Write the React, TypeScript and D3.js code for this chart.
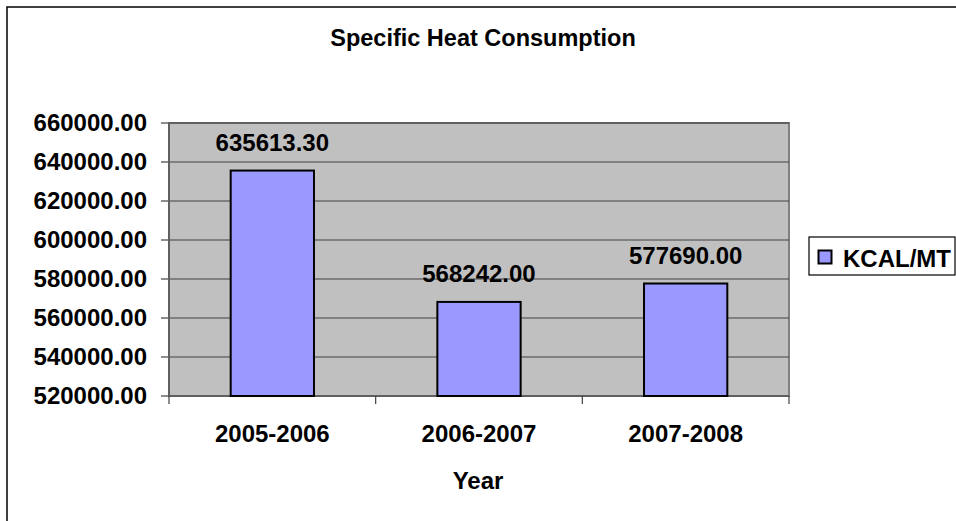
import React from "react";
import * as d3 from "d3";

const categories = ["2005-2006", "2006-2007", "2007-2008"];
const values = [635613.3, 568242.0, 577690.0];
const yTicks = [520000, 540000, 560000, 580000, 600000, 620000, 640000, 660000];
const seriesName = "KCAL/MT";
const title = "Specific Heat Consumption";
const xTitle = "Year";

export default function App() {
  const W = 956, H = 521;
  const x0 = 169, x1 = 789, y0 = 123, y1 = 396;
  const x = d3.scaleBand<string>().domain(categories).range([x0, x1]).paddingInner(0.597).paddingOuter(0.2985);
  const y = d3.scaleLinear().domain([520000, 660000]).range([y1, y0]);
  const step = (x1 - x0) / categories.length;
  const font = "'Liberation Sans', Arial, sans-serif";
  return (
    <svg width={W} height={H} style={{ position: "absolute", left: 0, top: 0 }} fontFamily={font}>
      <rect x={0} y={0} width={W} height={H} fill="#fff" />
      <rect x={7} y={7} width={W + 10} height={H + 10} fill="none" stroke="#000" strokeWidth={1.5} />
      <text x={483} y={46} textAnchor="middle" fontWeight="bold" fontSize={23.5}>{title}</text>
      <rect x={x0} y={y0} width={x1 - x0} height={y1 - y0} fill="#C0C0C0" stroke="#808080" strokeWidth={2} />
      {yTicks.map((t) => (
        <g key={t}>
          {t !== 520000 && <line x1={x0} x2={x1} y1={y(t)} y2={y(t)} stroke="#404040" strokeWidth={1.2} />}
          <line x1={x0 - 8} x2={x0} y1={y(t)} y2={y(t)} stroke="#404040" strokeWidth={1.2} />
          <text x={147} y={y(t) + 8} textAnchor="end" fontWeight="bold" fontSize={24}>{t.toFixed(2)}</text>
        </g>
      ))}
      <line x1={x0} x2={x0} y1={y0} y2={y1} stroke="#606060" strokeWidth={2} />
      <line x1={x0} x2={x1} y1={y1} y2={y1} stroke="#606060" strokeWidth={2} />
      {d3.range(categories.length + 1).map((i) => (
        <line key={i} x1={x0 + i * step} x2={x0 + i * step} y1={y1} y2={y1 + 8} stroke="#404040" strokeWidth={1.2} />
      ))}
      {categories.map((c, i) => (
        <g key={c}>
          <rect x={x(c)!} y={y(values[i])} width={x.bandwidth()} height={y1 - y(values[i])} fill="#9999FF" stroke="#000" strokeWidth={2} />
          <text x={x(c)! + x.bandwidth() / 2} y={y(values[i]) - 20} textAnchor="middle" fontWeight="bold" fontSize={24}>{values[i].toFixed(2)}</text>
          <text x={x0 + (i + 0.5) * step} y={441.5} textAnchor="middle" fontWeight="bold" fontSize={24}>{c}</text>
        </g>
      ))}
      <text x={478} y={489} textAnchor="middle" fontWeight="bold" fontSize={24}>{xTitle}</text>
      <rect x={809} y={237} width={146} height={38} fill="#fff" stroke="#000" strokeWidth={1.2} />
      <rect x={818.5} y={250.5} width={13} height={13} fill="#9999FF" stroke="#000" strokeWidth={2} />
      <text x={843} y={266.5} fontWeight="bold" fontSize={24}>{seriesName}</text>
    </svg>
  );
}
